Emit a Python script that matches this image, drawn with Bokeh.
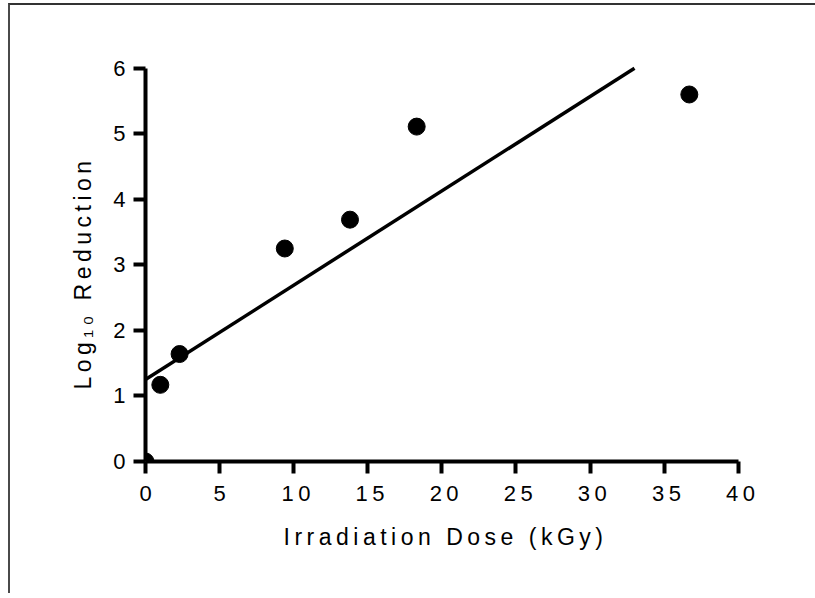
from bokeh.plotting import figure
from bokeh.models import Range1d, FixedTicker, Title, GlobalInlineStyleSheet
from bokeh.embed import file_html
from bokeh.resources import INLINE

# ---- data ----
dose = [0.0, 1.0, 2.3, 9.4, 13.8, 18.3, 36.7]
log_reduction = [0.0, 1.17, 1.64, 3.25, 3.69, 5.11, 5.6]
fit_dose = [0.0, 33.0]
fit_log = [1.25, 6.0]
x_ticks = [0, 5, 10, 15, 20, 25, 30, 35, 40]
y_ticks = [0, 1, 2, 3, 4, 5, 6]
x_title = "Irradiation Dose (kGy)"
y_title = "Log\u2081\u2080 Reduction"

FONT = "Liberation Sans"

p = figure(
    width=820, height=590,
    output_backend="svg", toolbar_location=None,
    x_range=Range1d(0.0, 44.0), y_range=Range1d(0.0, 6.5),
    min_border_left=135, min_border_right=33,
    min_border_top=30, min_border_bottom=134,
    styles={
        "margin-left": "8px",
        "margin-top": "3px",
        "border-left": "2px solid #4a4a4a",
        "border-top": "2px solid #333333",
        "letter-spacing": "4.5px",
    },
    stylesheets=[GlobalInlineStyleSheet(css="html, body { overflow: hidden !important; }")],
)
p.outline_line_color = None
p.grid.visible = False
p.background_fill_color = "white"
p.border_fill_color = "white"

p.line(fit_dose, fit_log, line_color="black", line_width=3.5)
p.scatter(dose, log_reduction, size=17, fill_color="black", line_color="black")

xa = p.xaxis[0]
ya = p.yaxis[0]
for ax in (xa, ya):
    ax.axis_line_width = 4
    ax.axis_line_color = "black"
    ax.major_tick_line_width = 4
    ax.major_tick_line_color = "black"
    ax.major_tick_out = 12
    ax.major_tick_in = 0
    ax.minor_tick_out = 0
    ax.minor_tick_in = 0
    ax.major_label_text_font = FONT
    ax.major_label_text_font_size = "22px"
    ax.major_label_text_color = "black"

xa.bounds = (0, 40)
ya.bounds = (0, 6)
xa.ticker = FixedTicker(ticks=x_ticks)
ya.ticker = FixedTicker(ticks=y_ticks)
xa.major_label_standoff = 12
ya.major_label_standoff = 8

xt = Title(text=x_title, align="left", offset=138, standoff=37,
           text_font=FONT, text_font_size="23px", text_font_style="normal",
           text_color="black")
yt = Title(text=y_title, align="left", offset=72, standoff=30,
           text_font=FONT, text_font_size="23px", text_font_style="normal",
           text_color="black")
p.add_layout(xt, "below")
p.add_layout(yt, "left")

open("out.html", "w").write(file_html(p, INLINE))
